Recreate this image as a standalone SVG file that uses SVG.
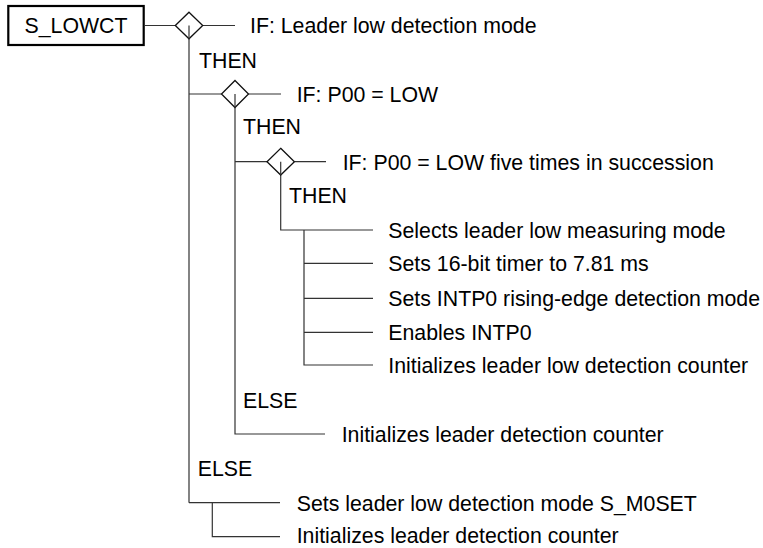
<svg xmlns="http://www.w3.org/2000/svg" width="763" height="548" viewBox="0 0 763 548">
<style>
text{font-family:"Liberation Sans",Arial,sans-serif;font-size:21.3px;fill:#000}
.ln{stroke:#333;stroke-width:1.2;fill:none}
.dm{stroke:#111;stroke-width:1.3;fill:#fff}
.bx{stroke:#000;stroke-width:2.2;fill:#fff}
</style>
<rect width="763" height="548" fill="#fff"/>
<g id="connectors">
<path class="ln" d="M145 25.5H175.3M202.7 25.5H235M189 25.5V502.7"/>
<path class="ln" d="M189 94H221.5M248.5 94H281M235 94V434H325"/>
<path class="ln" d="M235 161.7H267M294.4 161.7H326M280.7 161.7V230H373"/>
<path class="ln" d="M304 230V365H373M304 263.3H373M304 298.3H373M304 332.3H373"/>
<path class="ln" d="M189 502.7H280M212.3 502.7V536.7H280"/>
</g>
<g id="start"><rect class="bx" x="8.3" y="6" width="135.4" height="39"/><text x="76" y="33" text-anchor="middle">S_LOWCT</text></g>
<g id="if1"><path class="dm" d="M189 12.2L202.7 25.5L189 38.8L175.3 25.5Z"/><path class="ln" d="M189 25.5V38.8"/><text x="250" y="33">IF: Leader low detection mode</text></g>
<g id="then1"><text x="199" y="68">THEN</text></g>
<g id="if2"><path class="dm" d="M235 80.5L248.5 94L235 107.5L221.5 94Z"/><path class="ln" d="M235 94V107.5"/><text x="296.7" y="102">IF: P00 = LOW</text></g>
<g id="then2"><text x="243" y="134">THEN</text></g>
<g id="if3"><path class="dm" d="M280.7 148.3L294.4 161.7L280.7 175L267 161.7Z"/><path class="ln" d="M280.7 161.7V175"/><text x="342.7" y="169.7">IF: P00 = LOW five times in succession</text></g>
<g id="then3"><text x="289" y="203">THEN</text></g>
<g id="a1"><text x="388.3" y="238">Selects leader low measuring mode</text></g>
<g id="a2"><text x="388.3" y="271.3">Sets 16-bit timer to 7.81 ms</text></g>
<g id="a3"><text x="388.3" y="306.3">Sets INTP0 rising-edge detection mode</text></g>
<g id="a4"><text x="388.3" y="340.3">Enables INTP0</text></g>
<g id="a5"><text x="388.3" y="373">Initializes leader low detection counter</text></g>
<g id="else2"><text x="243" y="408">ELSE</text></g>
<g id="a6"><text x="341.7" y="442">Initializes leader detection counter</text></g>
<g id="else1"><text x="197.7" y="476">ELSE</text></g>
<g id="a7"><text x="296.7" y="510.7">Sets leader low detection mode S_M0SET</text></g>
<g id="a8"><text x="296.7" y="543">Initializes leader detection counter</text></g>
</svg>
